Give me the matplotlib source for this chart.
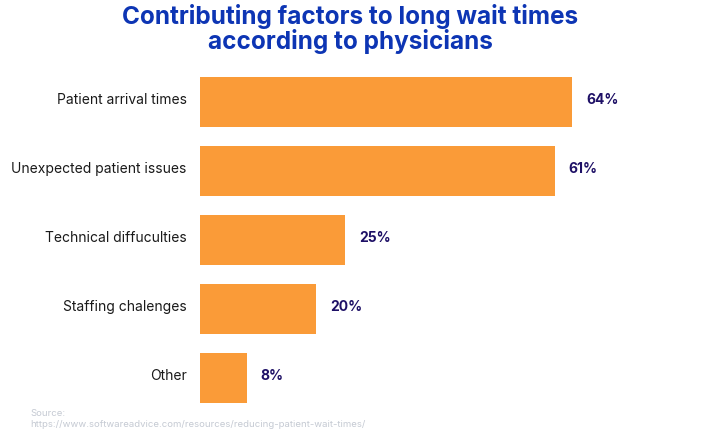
import matplotlib.pyplot as plt

# ── Data ─────────────────────────────────────────────────────────────────────
factors = [
    "Patient arrival times",
    "Unexpected patient issues",
    "Technical diffuculties",
    "Staffing chalenges",
    "Other",
]
percents = [64, 61, 25, 20, 8]

BAR_COLOR    = "#FA9B38"
TITLE_COLOR  = "#0D35B4"
VALUE_COLOR  = "#1E1066"
LABEL_COLOR  = "#1A1A1A"
SOURCE_COLOR = "#C5CAD3"

plt.rcParams["font.family"] = ["Inter", "DejaVu Sans"]

fig = plt.figure(figsize=(7.01, 4.35), dpi=100)
# 64% bar ends at 572px -> 5.8125 px per percent
ax = fig.add_axes([200 / 701, 21.5 / 435, 500 / 701, 345 / 435])

y = list(range(len(factors)))
ax.barh(y, percents, height=0.725, color=BAR_COLOR)
ax.set_xlim(0, 500 / 5.8125)
ax.set_ylim(len(factors) - 0.5, -0.5)

for i, (lab, v) in enumerate(zip(factors, percents)):
    ax.annotate(f"{v}%", (v, i), xytext=(10, 2.5), textcoords="offset points",
                va="center", ha="left", fontsize=10, fontweight="bold",
                color=VALUE_COLOR)
    ax.annotate(lab, (0, i), xytext=(-9.5, 2.5), textcoords="offset points",
                va="center", ha="right", fontsize=10, color=LABEL_COLOR)

ax.axis("off")

fig.text(0.5, 0.99, "Contributing factors to long wait times\naccording to physicians",
         ha="center", va="top", fontsize=17.5, fontweight="bold",
         color=TITLE_COLOR, linespacing=0.98)
fig.text(30 / 701, 1 - 419 / 435, "Source:\nhttps://www.softwareadvice.com/resources/reducing-patient-wait-times/",
         ha="left", va="center", fontsize=6.9, color=SOURCE_COLOR, linespacing=1.15)

fig.savefig("out.png", dpi=100)
